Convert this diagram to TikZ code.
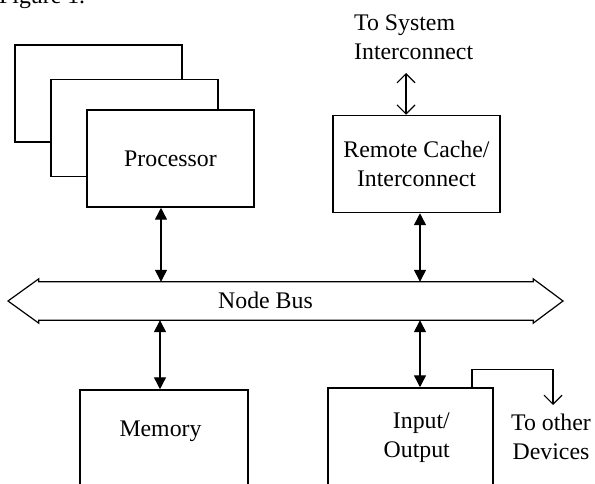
\documentclass[tikz,border=0pt]{standalone}
\usepackage{fontspec}
\setmainfont{Liberation Serif}
\usetikzlibrary{arrows.meta,calc}

\begin{document}
\begin{tikzpicture}[x=1pt, y=-1pt,
    boxStyle/.style={draw, line width=1.5pt, fill=white, inner sep=0pt, minimum width=167pt, minimum height=97pt},
    txtStyle/.style={font=\fontsize{23.8}{29}\selectfont, inner sep=0pt},
    busLine/.style={line width=1.2pt, line join=miter},
    biArrow/.style={line width=1.4pt, {Triangle[width=12pt,length=12pt]}-{Triangle[width=12pt,length=12pt]}},
    openArrow/.style={line width=1.2pt, {Straight Barb[width=18pt,length=9pt]}-{Straight Barb[width=18pt,length=9pt]}},
    outArrow/.style={line width=1.2pt, -{Straight Barb[width=18pt,length=9pt]}}]
    \useasboundingbox (0, 0) rectangle (595, 484);

    % Title
    \node[txtStyle, anchor=base west] (title) at (-1, 4) {Figure 1.};

    % Processors
    \node[boxStyle] (proc1) at ( 98.5,  93.5) {};
    \node[boxStyle] (proc2) at (134.5, 128)   {};
    \node[boxStyle, txtStyle] (proc3) at (170.5, 158.5) {Processor};

    % Remote cache
    \node[boxStyle, txtStyle, align=center] (rcache) at (416.5, 164) {Remote Cache/\\Interconnect};
    \node[txtStyle, align=left, anchor=west] (sysTxt) at (354, 37) {To System\\Interconnect};
    \coordinate (sysEnd) at (406, 73);

    % Bus
    \node[inner sep=0pt, minimum width=494pt, minimum height=38pt] (bus) at (286, 301) {};
    \node[txtStyle] (busTxt) at (265.5, 300) {Node Bus};
    \coordinate (tipL) at (8, 301);
    \coordinate (tipR) at (563, 301);
    \draw[busLine] (bus.north west) -- (bus.north east) -- ++(0, -3) -- (tipR)
        -- ($(bus.south east) + (0, 3)$) -- (bus.south east) -- (bus.south west)
        -- ++(0, 3) -- (tipL) -- ($(bus.north west) + (0, -3)$) -- cycle;

    % Memory and I/O
    \node[boxStyle, minimum width=168pt, minimum height=110pt] (mem) at (164, 445) {};
    \node[txtStyle] (memTxt) at (160.5, 431.5) {Memory};
    \node[boxStyle, minimum width=165pt, minimum height=112pt] (io) at (410.5, 444) {};
    \node[txtStyle, align=right, anchor=east] (ioTxt) at (450, 438) {Input/\\Output};
    \node[txtStyle, align=center] (devTxt) at (551, 437) {To other\\Devices};
    \coordinate (devEnd) at (553, 405);

    % Edges
    \draw[biArrow] (proc3.south -| 161, 0) -- (bus.north -| 161, 0);
    \draw[biArrow] (bus.south -| 160, 0) -- (mem.north -| 160, 0);
    \draw[biArrow] (rcache.south -| 420, 0) -- (bus.north -| 420, 0);
    \draw[biArrow] (bus.south -| 420, 0) -- (io.north -| 420, 0);
    \draw[openArrow] (rcache.north -| sysEnd) -- (sysEnd);
    \draw[outArrow] (io.north -| 472, 0) -- ++(0, -18) -| (devEnd);
\end{tikzpicture}
\end{document}
